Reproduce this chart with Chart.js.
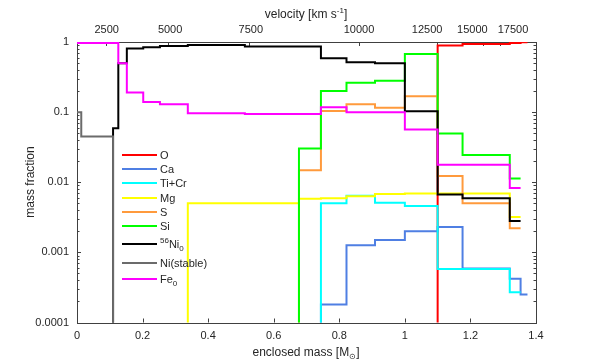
<!DOCTYPE html>
<html>
<head>
<meta charset="utf-8">
<script src="https://cdn.jsdelivr.net/npm/chart.js@4"></script>
<style>
  body { margin: 0; background: #fff; }
  #wrap { position: relative; width: 592px; height: 363px; font-family: "Liberation Sans", Arial, sans-serif; color: #262626; }
  #wrap canvas { position: absolute; left: 0; top: 0; }
  .lbl { position: absolute; font-size: 12px; white-space: nowrap; line-height: 1; transform: translate(-50%, -50%); }
  sup, sub { font-size: 8px; line-height: 0; }
  #legend { position: absolute; left: 122px; top: 0; font-size: 11px; }
  .row { position: absolute; left: 0; height: 14px; display: flex; align-items: center; white-space: nowrap; }
  .row i { display: inline-block; width: 35px; height: 2px; margin-right: 3px; }
</style>
</head>
<body>
<div id="wrap">
  <canvas id="grafico" width="592" height="363"></canvas>
  <div class="lbl" style="left:306px; top:14px;">velocity [km s<sup>-1</sup>]</div>
  <div class="lbl" style="left:306px; top:352px;">enclosed mass [M<sub>&#8857;</sub>]</div>
  <div class="lbl" style="left:30px; top:182px; transform: translate(-50%, -50%) rotate(-90deg);">mass fraction</div>
  <div id="legend"></div>
</div>
<script>
// bin edges in enclosed mass, one value per bin for each species
const massEdges = [0, 0.013, 0.11, 0.126, 0.152, 0.202, 0.253, 0.338, 0.512, 0.677, 0.744, 0.822, 0.909, 1.0, 1.1, 1.176, 1.32, 1.353, 1.374];
const L = 1e-6; // below the plotted range

const oxygen   = [L, L, L, L, L, L, L, L, L, L, L, L, L, L, 0.89, 0.94, 0.97, 0.99];
const calcium  = [L, L, L, L, L, L, L, L, L, L, 0.00018, 0.00126, 0.0015, 0.0020, 0.0023, 0.00059, 0.00042, 0.00025];
const tiCr     = [L, L, L, L, L, L, L, L, L, L, 0.0050, 0.0064, 0.0051, 0.0046, 0.00058, 0.00058, 0.00027, null];
const magnesium = [L, L, L, L, L, L, L, 0.0050, 0.0050, 0.0058, 0.0059, 0.0063, 0.0068, 0.0069, 0.0069, 0.0069, 0.0032, null];
const sulfur   = [L, L, L, L, L, L, L, L, L, 0.0148, 0.104, 0.130, 0.115, 0.169, 0.0123, 0.0050, 0.0022, null];
const silicon  = [L, L, L, L, L, L, L, L, L, 0.0304, 0.20, 0.262, 0.28, 0.674, 0.0497, 0.0244, 0.0113, null];
const ni56     = [L, L, 0.059, 0.496, 0.81, 0.84, 0.877, 0.906, 0.86, 0.86, 0.585, 0.513, 0.496, 0.103, 0.0067, 0.0059, 0.0028, null];
const niStable = [0.1, 0.045, L, L, L, L, L, L, L, L, L, L, L, L, L, L, L, L];
const fe0      = [0.97, 0.97, 0.97, 0.496, 0.19, 0.14, 0.129, 0.096, 0.094, 0.094, 0.117, 0.10, 0.10, 0.0566, 0.0178, 0.0178, 0.0083, null];

const seriesNames = ['O', 'Ca', 'Ti+Cr', 'Mg', 'S', 'Si', '<sup>56</sup>Ni<sub>0</sub>', 'Ni(stable)', 'Fe<sub>0</sub>'];
const seriesValues = [oxygen, calcium, tiCr, magnesium, sulfur, silicon, ni56, niStable, fe0];
const seriesColors = ['#ff0000', '#4f7fe3', '#00ffff', '#ffff00', '#ff9a3c', '#00ff00', '#000000', '#6b6b6b', '#ff00ff'];

// top axis: velocity labels and where they sit in mass coordinates
const velocityLabels = ['2500', '5000', '7500', '10000', '12500', '15000', '17500'];
const velocityLabelMass = [0.0906, 0.284, 0.530, 0.860, 1.068, 1.206, 1.330];
const velocityTickMass = [0.0884, 0.278, 0.525, 0.860, 1.099, 1.239, 1.290];

const massTicks = [0, 0.2, 0.4, 0.6, 0.8, 1.0, 1.2, 1.4];
const yTicks = [0.0001, 0.001, 0.01, 0.1, 1];
const yTickLabels = ['0.0001', '0.001', '0.01', '0.1', '1'];

function stepPoints(values) {
    let pts = [];
    let last = -1;
    values.forEach((v, i) => {
        if (v === null) return;
        pts.push({ x: massEdges[i], y: v });
        last = i;
    });
    if (last >= 0) pts.push({ x: massEdges[last + 1], y: values[last] });
    return pts;
}

const legendRows = [155, 169.3, 183.3, 197.7, 212, 226, 244, 262.7, 279.3];
const legend = document.getElementById('legend');
seriesNames.forEach((name, i) => {
    const row = document.createElement('div');
    row.className = 'row';
    row.style.top = (legendRows[i] - 7) + 'px';
    row.innerHTML = `<i style="background:${seriesColors[i]}"></i><span>${name}</span>`;
    legend.appendChild(row);
});

const axisColor = '#404040';
const tickFont = { family: 'Liberation Sans', size: 11 };

// box around the plot with inward ticks, drawn under the lines
const frameTicks = {
    id: 'frameTicks',
    beforeDatasetsDraw(chart) {
        const { ctx, chartArea: a, scales } = chart;
        ctx.save();
        ctx.strokeStyle = axisColor;
        ctx.lineWidth = 1;
        ctx.beginPath();
        massTicks.forEach(m => {
            const px = Math.round(scales.x.getPixelForValue(m)) + 0.5;
            ctx.moveTo(px, a.bottom); ctx.lineTo(px, a.bottom - 4);
        });
        velocityTickMass.forEach(m => {
            const px = Math.round(scales.x.getPixelForValue(m)) + 0.5;
            ctx.moveTo(px, a.top); ctx.lineTo(px, a.top + 4);
        });
        for (let d = -4; d <= 0; d++) {
            for (let k = 1; k <= 9; k++) {
                const v = k * Math.pow(10, d);
                if (v > 1) break;
                const py = Math.round(scales.y.getPixelForValue(v)) + 0.5;
                const len = k === 1 ? 4 : 2.5;
                ctx.moveTo(a.left, py); ctx.lineTo(a.left + len, py);
                ctx.moveTo(a.right, py); ctx.lineTo(a.right - len, py);
            }
        }
        ctx.stroke();
        ctx.strokeRect(Math.round(a.left) + 0.5, Math.round(a.top) + 0.5, Math.round(a.right - a.left), Math.round(a.bottom - a.top));
        ctx.restore();
    }
};

const ctx = document.getElementById('grafico').getContext('2d');
new Chart(ctx, {
    type: 'line',
    data: {
        datasets: seriesValues.map((vals, i) => ({
            label: seriesNames[i],
            data: stepPoints(vals),
            borderColor: seriesColors[i],
            backgroundColor: seriesColors[i],
            borderWidth: 2,
            pointRadius: 0,
            stepped: 'before',
            fill: false,
            order: seriesValues.length - i
        }))
    },
    options: {
        responsive: false,
        animation: false,
        layout: { padding: { right: 56, left: 0, top: 0, bottom: 0 } },
        plugins: { legend: { display: false }, tooltip: { enabled: false } },
        scales: {
            x: {
                type: 'linear', position: 'bottom', min: 0, max: 1.4,
                afterBuildTicks: s => { s.ticks = massTicks.map(v => ({ value: v })); },
                afterFit: s => { s.height = 40.5; },
                grid: { display: false, drawTicks: false },
                border: { display: false },
                ticks: { autoSkip: false, maxRotation: 0, padding: 7, color: '#262626', font: tickFont,
                    callback: v => String(+v.toFixed(1)) }
            },
            x2: {
                type: 'linear', position: 'top', min: 0, max: 1.4,
                afterBuildTicks: s => { s.ticks = velocityLabelMass.map(v => ({ value: v })); },
                afterFit: s => { s.height = 42; },
                grid: { display: false, drawTicks: false },
                border: { display: false },
                ticks: { autoSkip: false, maxRotation: 0, padding: 5, color: '#262626', font: tickFont,
                    callback: (v, i) => velocityLabels[i] }
            },
            y: {
                type: 'logarithmic', position: 'left', min: 0.0001, max: 1,
                afterBuildTicks: s => { s.ticks = yTicks.map(v => ({ value: v })); },
                afterFit: s => { s.width = 77; },
                grid: { display: false, drawTicks: false },
                border: { display: false },
                ticks: { autoSkip: false, padding: 8, color: '#262626', font: tickFont,
                    callback: (v, i) => yTickLabels[i] }
            }
        }
    },
    plugins: [frameTicks]
});
</script>
</body>
</html>
